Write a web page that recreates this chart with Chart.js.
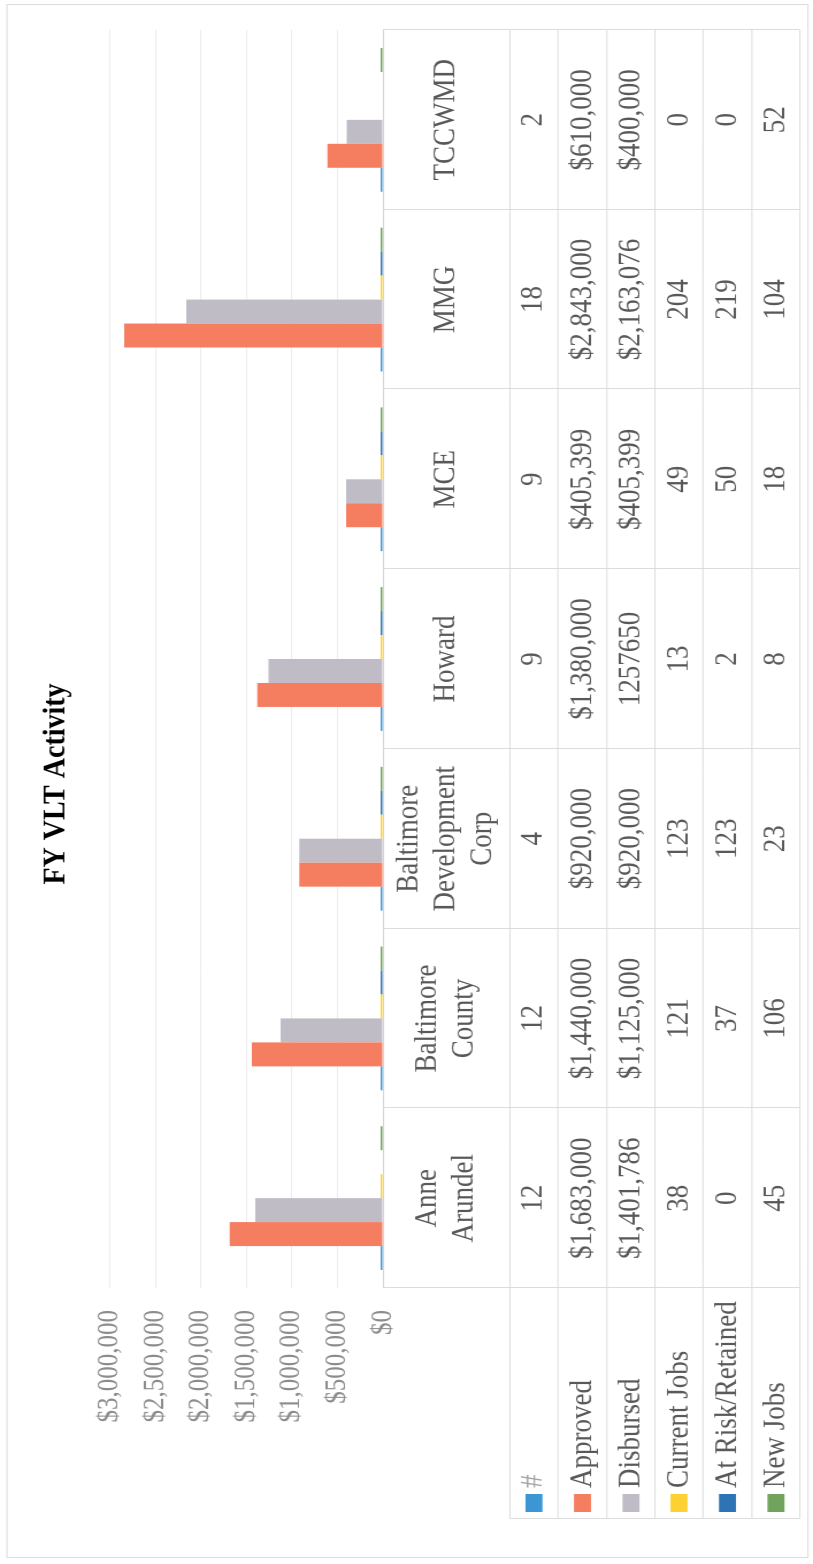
<!DOCTYPE html>
<html>
<head>
<meta charset="utf-8">
<script src="https://cdn.jsdelivr.net/npm/chart.js@4.4.1/dist/chart.umd.min.js"></script>
<style>
html, body { margin: 0; padding: 0; background: #fff; }
body { width: 813px; height: 1564px; overflow: hidden; position: relative; }
/* the printed page is turned on its side, and the scan is a bit taller than wide */
#wrap {
    position: absolute; left: 0; top: 0;
    width: 1564px; height: 707px;
    transform-origin: 0 0;
    transform: translate(0px, 1564px) rotate(-90deg) scale(1, 1.15);
}
</style>
</head>
<body>
<div id="wrap"><canvas id="chart" width="1564" height="707"></canvas></div>
<script>
// values
var categories = [["Anne", "Arundel"], ["Baltimore", "County"], ["Baltimore", "Development", "Corp"], ["Howard"], ["MCE"], ["MMG"], ["TCCWMD"]];
var seriesNames = ["#", "Approved", "Disbursed", "Current Jobs", "At Risk/Retained", "New Jobs"];
var countValues = [12, 12, 4, 9, 9, 18, 2];
var approvedValues = [1683000, 1440000, 920000, 1380000, 405399, 2843000, 610000];
var disbursedValues = [1401786, 1125000, 920000, 1257650, 405399, 2163076, 400000];
var currentJobs = [38, 121, 123, 13, 49, 204, 0];
var atRiskRetained = [0, 37, 123, 2, 50, 219, 0];
var newJobs = [45, 106, 23, 8, 18, 104, 52];
var yTicks = [0, 500000, 1000000, 1500000, 2000000, 2500000, 3000000];
// Howard's disbursed figure is printed as a bare number
var disbursedBare = [false, false, false, true, false, false, false];

var seriesValues = [countValues, approvedValues, disbursedValues, currentJobs, atRiskRetained, newJobs];
var seriesColors = ["#3c96d4", "#f57d60", "#c0bcc6", "#fdd131", "#2e74b5", "#70a35c"];
var moneyRows = [false, true, true, false, false, false];

var S = 1.15;
function Y(v) { return v / S; }
var FONT = "'Liberation Serif', 'Times New Roman', serif";

function money(v) {
    return "$" + v.toLocaleString("en-US");
}

function cellText(row, i) {
    var v = seriesValues[row][i];
    if (row === 2 && disbursedBare[i]) return String(v);
    return moneyRows[row] ? money(v) : String(v);
}

// borders of the data table, in page units across the sheet
var rowLines = [383, 510, 558, 607, 655, 703, 752, 800];

var tablePlugin = {
    id: "dataTable",
    afterDraw: function(chart) {
        var ctx = chart.ctx;
        var xs = chart.scales.x;
        var area = chart.chartArea;
        var n = categories.length;
        var cw = (area.right - area.left) / n;
        var legendLeft = 45;

        ctx.save();
        ctx.strokeStyle = "#dcdcdc";
        ctx.lineWidth = 1;

        // outer frame of the chart
        ctx.strokeRect(6.5, Y(7), 1553, Y(801));

        // category separators
        for (var i = 0; i <= n; i++) {
            var x = Math.round(area.left + i * cw) + 0.5;
            ctx.beginPath();
            ctx.moveTo(x, Y(383));
            ctx.lineTo(x, Y(800));
            ctx.stroke();
        }
        // row lines, these run under the legend column too
        for (var r = 1; r < rowLines.length; r++) {
            ctx.beginPath();
            ctx.moveTo(legendLeft, Y(rowLines[r]));
            ctx.lineTo(area.right, Y(rowLines[r]));
            ctx.stroke();
        }
        ctx.beginPath();
        ctx.moveTo(legendLeft + 0.5, Y(510));
        ctx.lineTo(legendLeft + 0.5, Y(800));
        ctx.stroke();

        ctx.textBaseline = "middle";
        ctx.fillStyle = "#595959";
        ctx.font = "27px " + FONT;
        ctx.textAlign = "center";

        // category names
        var lh = Y(37);
        categories.forEach(function(lines, i) {
            var cx = xs.getPixelForValue(i);
            var top = Y(446) - (lines.length - 1) * lh / 2;
            lines.forEach(function(t, k) {
                ctx.fillText(t, cx, top + k * lh);
            });
        });

        // values, one row per series
        seriesNames.forEach(function(name, row) {
            var cy = Y((rowLines[row + 1] + rowLines[row + 2]) / 2);
            ctx.textAlign = "center";
            ctx.fillStyle = "#595959";
            for (var i = 0; i < n; i++) {
                ctx.fillText(cellText(row, i), xs.getPixelForValue(i), cy);
            }
            // legend key
            ctx.fillStyle = seriesColors[row];
            ctx.fillRect(52, cy - Y(8.5), 18, Y(17));
            ctx.textAlign = "left";
            ctx.fillStyle = row === 0 ? "#a6a6a6" : "#595959";
            ctx.fillText(name, 76, cy);
        });

        // title
        ctx.fillStyle = "#000";
        ctx.textAlign = "center";
        ctx.font = "bold 28px " + FONT;
        ctx.fillText("FY VLT Activity", 780, Y(56));
        ctx.restore();
    }
};

var datasets = seriesNames.map(function(name, i) {
    return {
        label: name,
        // zero rows leave no mark in the print
        data: seriesValues[i].map(function(v) { return v === 0 ? null : v; }),
        backgroundColor: seriesColors[i],
        borderWidth: 0,
        barPercentage: 1.0,
        categoryPercentage: 0.8,
        minBarLength: 2
    };
});

new Chart(document.getElementById("chart"), {
    type: "bar",
    data: { labels: categories, datasets: datasets },
    options: {
        responsive: false,
        animation: false,
        layout: { padding: { top: Y(110), right: 30, bottom: 707 - Y(383), left: 0 } },
        plugins: {
            legend: { display: false },
            title: { display: false },
            tooltip: { enabled: false }
        },
        scales: {
            x: { display: false },
            y: {
                min: 0,
                max: 3000000,
                afterBuildTicks: function(scale) {
                    scale.ticks = yTicks.map(function(v) { return { value: v }; });
                },
                afterFit: function(scale) { scale.width = 276; },
                border: { display: false },
                grid: {
                    drawTicks: false,
                    color: function(c) { return c.tick && c.tick.value === 0 ? "#d4d4d4" : "#ececec"; },
                    lineWidth: 1
                },
                ticks: {
                    padding: 22,
                    color: "#8c8c8c",
                    font: { family: FONT, size: 25 },
                    callback: function(v) { return money(v); }
                }
            }
        }
    },
    plugins: [tablePlugin]
});
</script>
</body>
</html>
